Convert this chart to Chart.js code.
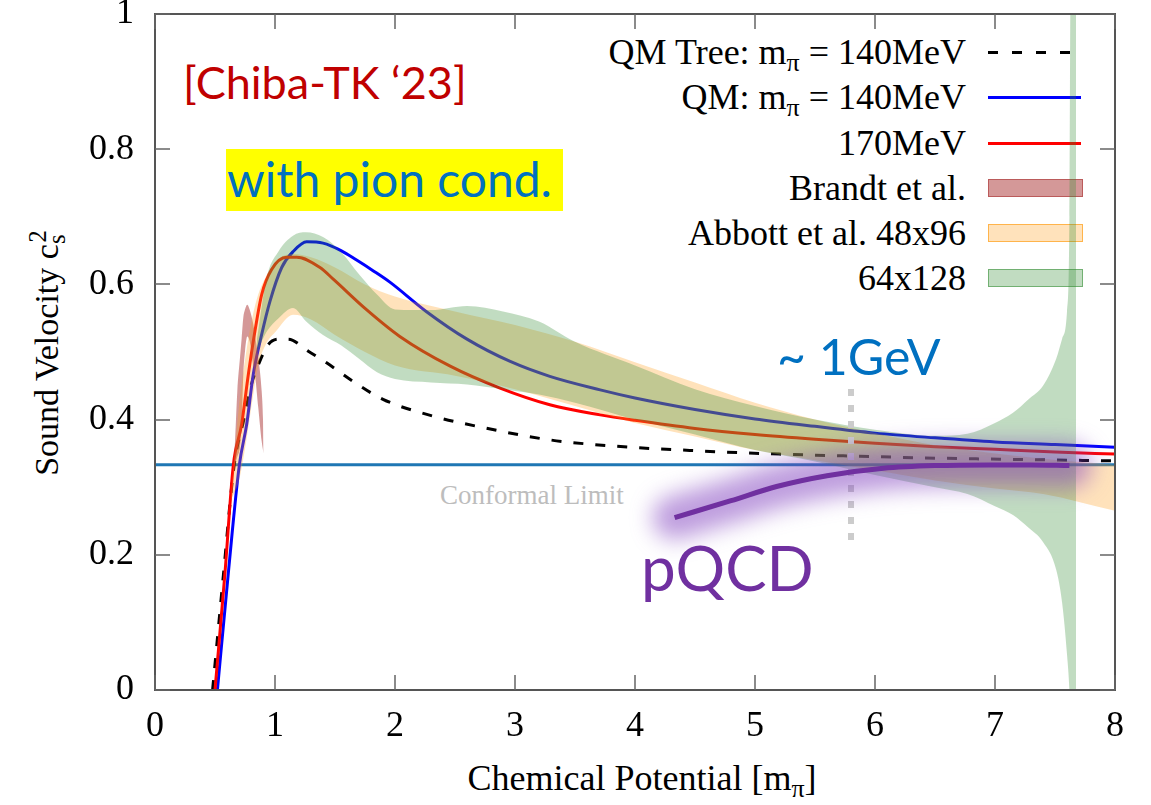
<!DOCTYPE html>
<html>
<head>
<meta charset="utf-8">
<script src="https://cdn.jsdelivr.net/npm/chart.js@4.4.1/dist/chart.umd.min.js"></script>
<style>
html,body{margin:0;padding:0;background:#fff}
#wrap{position:relative;width:1151px;height:805px;overflow:hidden;background:#fff}
#c{position:absolute;left:0;top:0;z-index:2}
.ov{position:absolute;z-index:1;white-space:nowrap;line-height:1}
.serif{font-family:"Liberation Serif","Times New Roman",serif;color:#000}
.sans{font-family:Lato,"Open Sans",sans-serif}
.ov sub{font-size:0.72em;vertical-align:-0.28em;line-height:0}
.ov sup{font-size:0.72em;vertical-align:0.5em;line-height:0}
.lg{position:absolute;z-index:1;right:185px;height:36px;line-height:36px;font-size:36px;white-space:nowrap}
.lg sub{font-size:0.72em;vertical-align:-0.28em;line-height:0}
.sw{position:absolute;z-index:1;left:988px;width:93px}
</style>
</head>
<body>
<div id="wrap">
  <canvas id="c" width="1151" height="805"></canvas>
  <div id="legend"></div>
  <div class="ov sans" style="left:183px;top:60px;font-size:45px;color:#c00000">[Chiba-TK ‘23]</div>
  <div class="ov" style="left:226px;top:149px;width:337px;height:62px;background:#ffff00"></div>
  <div class="ov sans" style="left:227px;top:155px;font-size:48px;color:#0070c0">with pion cond.</div>
  <div class="ov sans" style="left:777px;top:331px;font-size:50px;color:#0070c0">~ 1GeV</div>
  <div class="ov sans" style="left:641px;top:536px;font-size:62px;color:#7030a0">pQCD</div>
  <div class="ov serif" style="left:440px;top:482px;font-size:27px;color:#bdbdbd">Conformal Limit</div>
  <div class="ov serif" style="left:642px;top:778px;font-size:36px;transform:translate(-50%,-50%)">Chemical Potential [m<sub>π</sub>]</div>
  <div class="ov serif" style="left:47px;top:353px;font-size:34px;transform:translate(-50%,-50%) rotate(-90deg)">Sound Velocity c<sub>s</sub><sup style="margin-left:-0.32em">2</sup></div>
</div>
<script>
// axes
const xMin = 0, xMax = 8, xStep = 1;
const yMin = 0, yMax = 1, yStep = 0.2;

// QM tree level, m_pi = 140 MeV (dashed)
const xTree = [0.48, 0.57, 0.66, 0.74, 0.80, 0.861, 0.944, 1.03, 1.11, 1.278, 1.43, 1.63, 1.90, 2.32, 2.74, 3.29, 3.81, 4.5, 5.2, 5.82, 6.5, 7.2, 8.0];
const yTree = [0, 0.17, 0.333, 0.40, 0.45, 0.481, 0.511, 0.519, 0.519, 0.501, 0.484, 0.459, 0.430, 0.405, 0.388, 0.370, 0.361, 0.354, 0.349, 0.346, 0.343, 0.341, 0.339];

// QM, m_pi = 140 MeV
const xQM140 = [0.52, 0.611, 0.703, 0.764, 0.819, 0.889, 0.958, 1.056, 1.153, 1.264, 1.40, 1.55, 1.68, 1.82, 1.96, 2.26, 2.60, 2.96, 3.29, 3.71, 4.0, 4.5, 5.0, 5.5, 6.0, 6.5, 7.0, 7.5, 8.0];
const yQM140 = [0, 0.173, 0.333, 0.393, 0.467, 0.526, 0.575, 0.625, 0.649, 0.663, 0.661, 0.650, 0.636, 0.620, 0.603, 0.560, 0.519, 0.486, 0.464, 0.444, 0.432, 0.415, 0.401, 0.390, 0.380, 0.373, 0.367, 0.363, 0.359];

// QM, m_pi = 170 MeV
const xQM170 = [0.50, 0.583, 0.653, 0.722, 0.778, 0.833, 0.889, 0.972, 1.097, 1.18, 1.375, 1.49, 1.76, 2.04, 2.46, 2.87, 3.29, 3.71, 4.0, 4.5, 5.0, 5.5, 6.0, 6.5, 7.0, 7.5, 8.0];
const yQM170 = [0, 0.173, 0.333, 0.393, 0.467, 0.531, 0.585, 0.622, 0.640, 0.640, 0.625, 0.607, 0.563, 0.523, 0.479, 0.447, 0.422, 0.407, 0.399, 0.387, 0.378, 0.371, 0.365, 0.360, 0.356, 0.352, 0.349];

// Brandt et al. band
const xBrandt = [0.653, 0.667, 0.686, 0.708, 0.722, 0.736, 0.750, 0.769, 0.790, 0.819, 0.833, 0.861, 0.889, 0.900, 0.905];
const brandtHi = [0.333, 0.368, 0.442, 0.491, 0.520, 0.551, 0.563, 0.570, 0.562, 0.541, 0.525, 0.491, 0.442, 0.400, 0.350];
const brandtLo = [0.333, 0.335, 0.345, 0.360, 0.393, 0.467, 0.501, 0.523, 0.515, 0.480, 0.467, 0.417, 0.368, 0.355, 0.350];

// Abbott et al. 48x96 band
const xAbbott48 = [0.63, 0.70, 0.76, 0.81, 0.86, 0.92, 1.01, 1.15, 1.30, 1.50, 1.75, 2.00, 2.50, 3.00, 3.50, 4.00, 4.50, 5.00, 5.50, 6.00, 6.50, 7.00, 7.40, 8.00];
const abbott48Hi = [0.28, 0.42, 0.50, 0.55, 0.585, 0.61, 0.635, 0.645, 0.64, 0.625, 0.60, 0.582, 0.56, 0.54, 0.515, 0.485, 0.455, 0.425, 0.40, 0.38, 0.362, 0.35, 0.342, 0.333];
const abbott48Lo = [0.28, 0.31, 0.368, 0.427, 0.48, 0.51, 0.531, 0.555, 0.548, 0.525, 0.50, 0.48, 0.465, 0.445, 0.42, 0.395, 0.375, 0.355, 0.34, 0.325, 0.31, 0.298, 0.29, 0.265];

// Abbott et al. 64x128 band
const xAbbott64 = [0.85, 0.93, 1.03, 1.15, 1.26, 1.40, 1.55, 1.70, 1.85, 2.00, 2.30, 2.60, 2.90, 3.20, 3.50, 4.00, 4.50, 5.00, 5.50, 6.00, 6.50, 6.77, 7.00, 7.15, 7.28, 7.40, 7.51, 7.56, 7.60, 7.62, 7.63, 7.675];
const abbott64Hi = [0.52, 0.61, 0.649, 0.672, 0.677, 0.670, 0.648, 0.615, 0.585, 0.563, 0.562, 0.568, 0.560, 0.545, 0.515, 0.480, 0.445, 0.420, 0.400, 0.385, 0.376, 0.379, 0.395, 0.410, 0.430, 0.450, 0.490, 0.520, 0.560, 0.700, 1.05, 1.05];
const abbott64Lo = [0.50, 0.53, 0.550, 0.565, 0.545, 0.525, 0.510, 0.490, 0.470, 0.460, 0.455, 0.452, 0.445, 0.437, 0.425, 0.400, 0.378, 0.355, 0.338, 0.318, 0.300, 0.290, 0.272, 0.259, 0.240, 0.219, 0.178, 0.128, 0.053, 0.0, -0.05, -0.05];

// pQCD
const xPQCD = [4.33, 4.8, 5.18, 5.6, 6.07, 6.5, 6.95, 7.3, 7.62];
const yPQCD = [0.255, 0.280, 0.301, 0.317, 0.328, 0.332, 0.333, 0.333, 0.332];

const conformalY = 1 / 3;
const gevX = 5.8;
const gevY = [0.222, 0.447];

const legendLabels = ['QM Tree: m<sub>π</sub> = 140MeV', 'QM: m<sub>π</sub> = 140MeV', '170MeV', 'Brandt et al.', 'Abbott et al. 48x96', '64x128'];

const pts = (xs, ys) => xs.map((x, i) => ({x: x, y: ys[i]}));
const line = {pointRadius: 0, fill: false, cubicInterpolationMode: 'monotone'};
const band = (xs, lo, hi, color, order) => [
  {...line, data: pts(xs, lo), borderWidth: 0, order: order},
  {...line, data: pts(xs, hi), borderWidth: 0, fill: '-1', backgroundColor: color, order: order}
];

const green = 'rgba(50,140,50,0.3)', orange = 'rgba(255,160,30,0.3)', brown = 'rgba(170,50,50,0.5)';

// higher order is drawn first; the bands sit over the model curves
const datasets = [
  {...line, data: [{x: xMin, y: conformalY}, {x: xMax, y: conformalY}], borderColor: '#1f77b4', borderWidth: 3, tension: 0, cubicInterpolationMode: 'default', order: 9},
  {...line, data: pts(xTree, yTree), borderColor: '#000', borderWidth: 3, borderDash: [10, 12], order: 8},
  {...line, data: pts(xQM140, yQM140), borderColor: '#0000ff', borderWidth: 3, order: 7},
  {...line, data: pts(xQM170, yQM170), borderColor: '#ff0000', borderWidth: 3, order: 6},
  ...band(xBrandt, brandtLo, brandtHi, brown, 5),
  ...band(xAbbott48, abbott48Lo, abbott48Hi, orange, 4),
  ...band(xAbbott64, abbott64Lo, abbott64Hi, green, 3),
  {...line, data: [{x: gevX, y: gevY[0]}, {x: gevX, y: gevY[1]}], borderColor: '#cccccc', borderWidth: 6, borderDash: [7, 9], tension: 0, cubicInterpolationMode: 'default', order: 2},
  {...line, data: pts(xPQCD, yPQCD), borderColor: 'rgba(125,60,190,0.5)', borderWidth: 44, borderCapStyle: 'round', glow: true, order: 1},
  {...line, data: pts(xPQCD, yPQCD), borderColor: '#7030a0', borderWidth: 5, order: 0}
];

const glowPlugin = {
  id: 'glow',
  beforeDatasetDraw(chart, args) {
    if (chart.data.datasets[args.index].glow) { chart.ctx.save(); chart.ctx.filter = 'blur(11px)'; }
  },
  afterDatasetDraw(chart, args) {
    if (chart.data.datasets[args.index].glow) chart.ctx.restore();
  }
};

// gnuplot-like frame with inward ticks on all four sides
const framePlugin = {
  id: 'frame',
  afterDatasetsDraw(chart) {
    const {ctx, chartArea: a, scales: {x, y}} = chart;
    ctx.save();
    ctx.strokeStyle = '#555';
    ctx.lineWidth = 2;
    ctx.strokeRect(a.left, a.top, a.right - a.left, a.bottom - a.top);
    ctx.strokeStyle = '#666';
    ctx.lineWidth = 1.5;
    ctx.beginPath();
    x.ticks.forEach(t => {
      const p = Math.round(x.getPixelForValue(t.value));
      ctx.moveTo(p, a.bottom); ctx.lineTo(p, a.bottom - 15);
      ctx.moveTo(p, a.top); ctx.lineTo(p, a.top + 15);
    });
    y.ticks.forEach(t => {
      const p = Math.round(y.getPixelForValue(t.value));
      ctx.moveTo(a.left, p); ctx.lineTo(a.left + 15, p);
      ctx.moveTo(a.right, p); ctx.lineTo(a.right - 15, p);
    });
    ctx.stroke();
    ctx.restore();
  }
};

const tickFont = {family: '"Liberation Serif", "Times New Roman", serif', size: 36};

const chart = new Chart(document.getElementById('c'), {
  type: 'line',
  data: {datasets: datasets},
  options: {
    responsive: false,
    animation: false,
    devicePixelRatio: 1,
    layout: {padding: {top: 14, right: 36, left: 0, bottom: 0}},
    plugins: {legend: {display: false}, tooltip: {enabled: false}},
    scales: {
      x: {
        type: 'linear', min: xMin, max: xMax,
        ticks: {stepSize: xStep, font: tickFont, color: '#000', padding: 15, maxRotation: 0},
        grid: {display: false, drawTicks: false}, border: {display: false},
        afterFit: s => { s.height = 115; s.paddingLeft = 0; s.paddingRight = 0; }
      },
      y: {
        min: yMin, max: yMax,
        ticks: {stepSize: yStep, font: tickFont, color: '#000', padding: 21,
          callback: v => String(Math.round(v * 10) / 10)},
        grid: {display: false, drawTicks: false}, border: {display: false},
        afterFit: s => { s.width = 155; s.paddingTop = 0; s.paddingBottom = 0; }
      }
    }
  },
  plugins: [glowPlugin, framePlugin]
});

// legend built from the line and band styles
const rowY = [52, 97, 143, 188, 233, 278];
const swatches = [
  'height:3px;background:repeating-linear-gradient(to right,#000 0 10px,transparent 10px 24px)',
  'height:3px;background:#0000ff',
  'height:3px;background:#ff0000',
  'height:16px;background:' + brown + ';border:1px solid rgba(170,50,50,0.6)',
  'height:16px;background:' + orange + ';border:1px solid rgba(255,150,0,0.6)',
  'height:16px;background:' + green + ';border:1px solid rgba(50,140,50,0.55)'
];
let html = '';
legendLabels.forEach((lab, i) => {
  const h = i < 3 ? 3 : 18;
  html += `<div class="lg serif" style="top:${rowY[i] - 18}px">${lab}</div>`;
  html += `<div class="sw" style="top:${rowY[i] - h / 2}px;${swatches[i]}"></div>`;
});
document.getElementById('legend').innerHTML = html;
</script>
</body>
</html>
